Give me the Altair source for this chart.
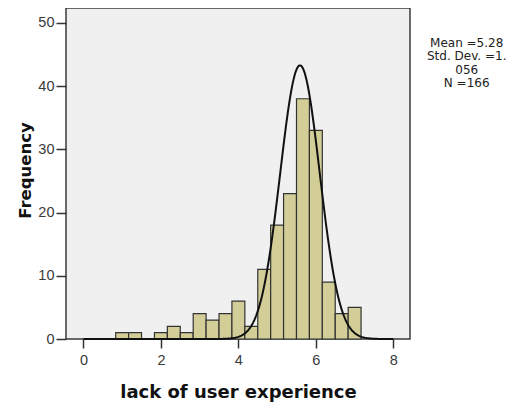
import altair as alt
import pandas as pd
import numpy as np

# Histogram bins (centers, width 1/3) and counts
bin_centers = [1.0, 1.333, 1.667, 2.0, 2.333, 2.667, 3.0, 3.333, 3.667, 4.0,
               4.333, 4.667, 5.0, 5.333, 5.667, 6.0, 6.333, 6.667, 7.0]
counts = [1, 1, 0, 1, 2, 1, 4, 3, 4, 6, 2, 11, 18, 23, 38, 33, 9, 4, 5]
bin_width = 1 / 3

# Normal curve as drawn in the picture
curve_mean = 5.59
curve_sd = 0.51
n_total = 166

x_ticks = [0, 2, 4, 6, 8]
y_ticks = [0, 10, 20, 30, 40, 50]
annotation = "Mean =5.28\nStd. Dev. =1.\n056\nN =166"

bars = pd.DataFrame({"center": bin_centers, "count": counts})
bars = bars[bars["count"] > 0]
bars["lo"] = bars["center"] - bin_width / 2
bars["hi"] = bars["center"] + bin_width / 2

cx = np.linspace(0.0, 8.0, 401)
cy = n_total * bin_width / (curve_sd * np.sqrt(2 * np.pi)) * np.exp(-0.5 * ((cx - curve_mean) / curve_sd) ** 2)
curve = pd.DataFrame({"x": cx, "y": cy})

W, H = 344, 331
xscale = alt.Scale(domain=[-0.45, 8.43], nice=False, zero=False)
yscale = alt.Scale(domain=[0, 52.35], nice=False)

xaxis = alt.Axis(values=x_ticks, title="lack of user experience", grid=False,
                 domain=False, tickSize=9, tickWidth=1.5, tickColor="#333",
                 labelFont="Liberation Sans", labelFontSize=14.5, labelColor="#3a3a3a",
                 labelPadding=5, titleFont="DejaVu Sans", titleFontSize=18,
                 titleFontWeight="bold", titleColor="#111", titleX=172, titleY=58,
                 titleBaseline="alphabetic", titleAlign="center")
yaxis = alt.Axis(values=y_ticks, title="Frequency", grid=False, domain=False,
                 tickSize=10, tickWidth=1.5, tickColor="#333",
                 labelFont="Liberation Sans", labelFontSize=14.5, labelColor="#3a3a3a",
                 labelPadding=2, titleFont="DejaVu Sans", titleFontSize=16.5,
                 titleFontWeight="bold", titleColor="#111", titleX=-41, titleY=162,
                 titleAngle=270, titleBaseline="middle", titleAlign="center")

bar_layer = alt.Chart(bars).mark_rect(fill="#d3ce97", stroke="#333", strokeWidth=1.2).encode(
    x=alt.X("lo:Q", scale=xscale, axis=xaxis),
    x2="hi:Q",
    y=alt.Y("count:Q", scale=yscale, axis=yaxis),
    y2=alt.datum(0),
)

curve_layer = alt.Chart(curve).mark_line(color="#111", strokeWidth=2).encode(
    x=alt.X("x:Q", scale=xscale),
    y=alt.Y("y:Q", scale=yscale),
)

text_layer = alt.Chart(pd.DataFrame({"t": [annotation]})).mark_text(
    font="DejaVu Sans", fontSize=12, color="#222", lineBreak="\n",
    lineHeight=13.5, align="center", baseline="alphabetic"
).encode(text="t:N", x=alt.value(400.7), y=alt.value(38.8))

chart = alt.layer(bar_layer, curve_layer, text_layer).properties(
    width=W, height=H,
    autosize=alt.AutoSizeParams(type="none"),
    padding={"left": 58, "top": 0, "right": 109, "bottom": 63},
).configure_view(fill="#f0f0f0", stroke="#3a3a3a", strokeWidth=1.5)

chart.save("out.html", embed_options={"renderer": "svg", "actions": False})
